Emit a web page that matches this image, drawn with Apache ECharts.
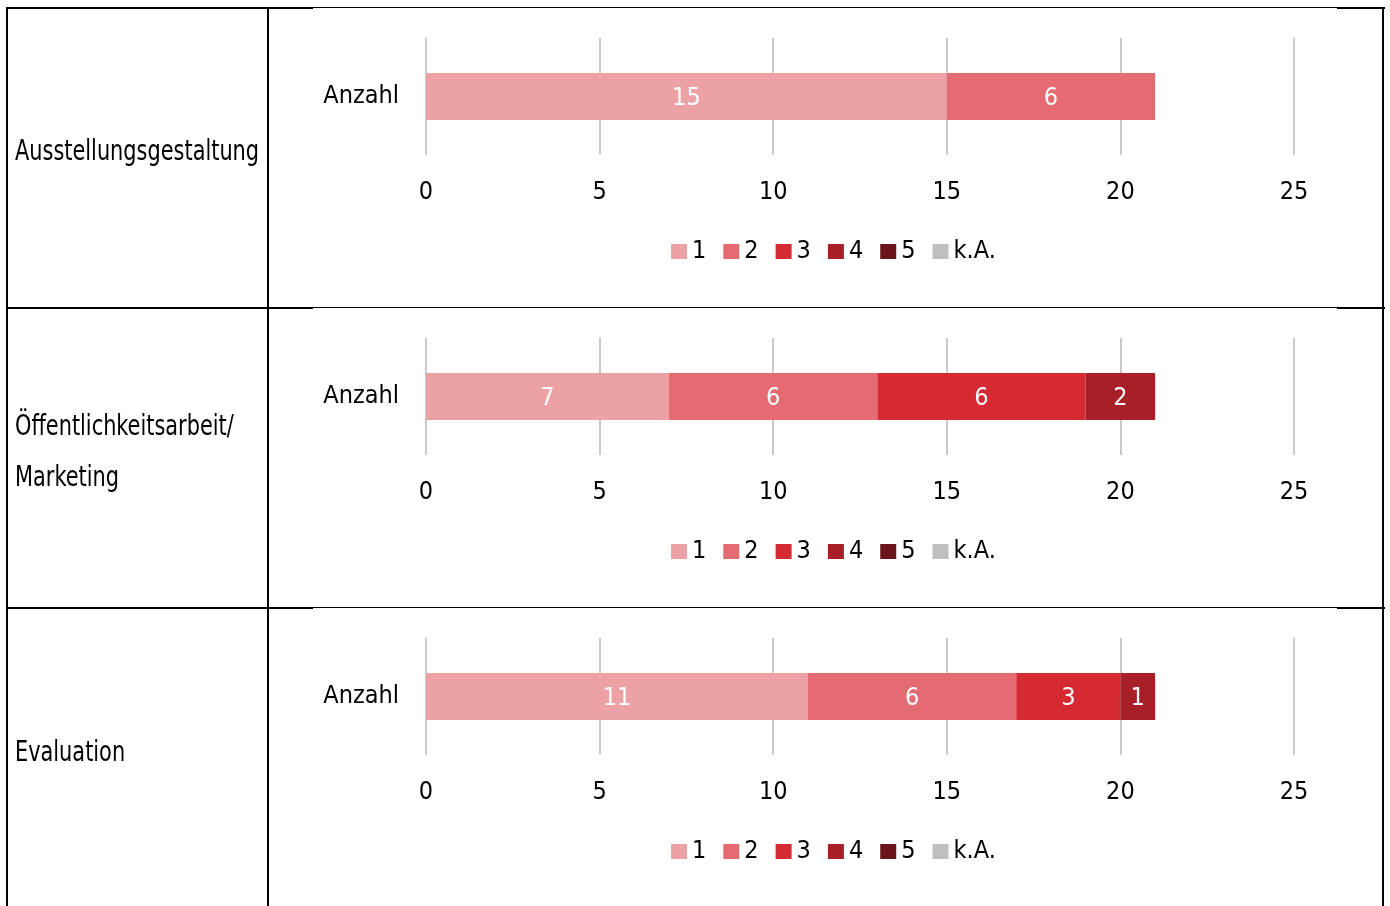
<!DOCTYPE html>
<html lang="de">
<head>
    <meta charset="utf-8">
    <title>Bewertung</title>
    <script src="https://cdn.jsdelivr.net/npm/echarts@6/dist/echarts.min.js"></script>
    <style>
        html, body { margin: 0; padding: 0; background: #fff; }
        #main { width: 1390px; height: 906px; }
    </style>
</head>
<body>
<div id="main"></div>
<script type="text/javascript">
// Daten
var rowLabels = ['Ausstellungsgestaltung', 'Öffentlichkeitsarbeit/\nMarketing', 'Evaluation'];
var category = ['Anzahl'];
var seriesNames = ['1', '2', '3', '4', '5', 'k.A.'];
var colors = ['#eca1a5', '#e36b71', '#d52a32', '#a81f28', '#6b141b', '#bfbfbf'];
var ausstellung = [15, 6, 0, 0, 0, 0];
var marketing = [7, 6, 6, 2, 0, 0];
var evaluation = [11, 6, 3, 1, 0, 0];
var xTicks = [0, 25, 5]; // min, max, interval

var panels = [ausstellung, marketing, evaluation];
var offsets = [0, 300, 600];
var labelTops = [127, 402, 728];
var font = "'DejaVu Sans Condensed', 'Liberation Sans Narrow', sans-serif";

var myChart = echarts.init(document.getElementById('main'));

var grids = [], xAxes = [], yAxes = [], legends = [], series = [], graphics = [];

panels.forEach(function (vals, p) {
    var off = offsets[p];
    grids.push({ left: 426, width: 868, top: 38 + off, height: 117 });
    xAxes.push({
        type: 'value', gridIndex: p,
        min: xTicks[0], max: xTicks[1], interval: xTicks[2],
        axisLine: { show: false },
        axisTick: { show: false },
        splitLine: { show: true, lineStyle: { color: '#c9c9c9', width: 2 } },
        axisLabel: { color: '#000', fontSize: 25, fontFamily: font, margin: 25 }
    });
    yAxes.push({
        type: 'category', gridIndex: p, data: category,
        axisLine: { show: false },
        axisTick: { show: false },
        axisLabel: { color: '#000', fontSize: 25, fontFamily: font, margin: 27, padding: [4, 0, 0, 0] }
    });
    legends.push({
        data: seriesNames, left: 671, top: 239 + off, padding: 0,
        itemWidth: 16, itemHeight: 15, itemGap: 17,
        icon: 'rect',
        textStyle: { color: '#000', fontSize: 25, fontFamily: font },
        selectedMode: false
    });
    seriesNames.forEach(function (name, i) {
        series.push({
            name: name, type: 'bar', stack: 'st' + p,
            xAxisIndex: p, yAxisIndex: p,
            barWidth: 47,
            itemStyle: { color: colors[i] },
            label: {
                show: true, position: 'inside', color: '#fff',
                fontSize: 25, fontFamily: font, offset: [0, 2],
                formatter: function (d) { return d.value ? d.value : ''; }
            },
            data: [vals[i]]
        });
    });
    // linke Spalte
    graphics.push({
        type: 'text', x: 15, y: labelTops[p], scaleX: 0.8,
        style: {
            text: rowLabels[p], fill: '#000', font: '29px ' + font,
            lineHeight: 51
        }
    });
});

// Tabellenlinien
function hline(x1, x2, y, w) {
    graphics.push({ type: 'line', shape: { x1: x1, y1: y, x2: x2, y2: y }, style: { stroke: '#000', lineWidth: w } });
}
function vline(x, y1, y2) {
    graphics.push({ type: 'line', shape: { x1: x, y1: y1, x2: x, y2: y2 }, style: { stroke: '#000', lineWidth: 2 } });
}
[8, 308, 608].forEach(function (y) {
    hline(6, 313, y, 2);
    hline(313, 1337, y - 0.5, 1);
    hline(1337, 1385, y, 2);
});
vline(7, 7, 906);
vline(268, 7, 906);
vline(1383, 7, 906);

myChart.setOption({
    animation: false,
    grid: grids,
    xAxis: xAxes,
    yAxis: yAxes,
    legend: legends,
    series: series,
    graphic: graphics
});
</script>
</body>
</html>
